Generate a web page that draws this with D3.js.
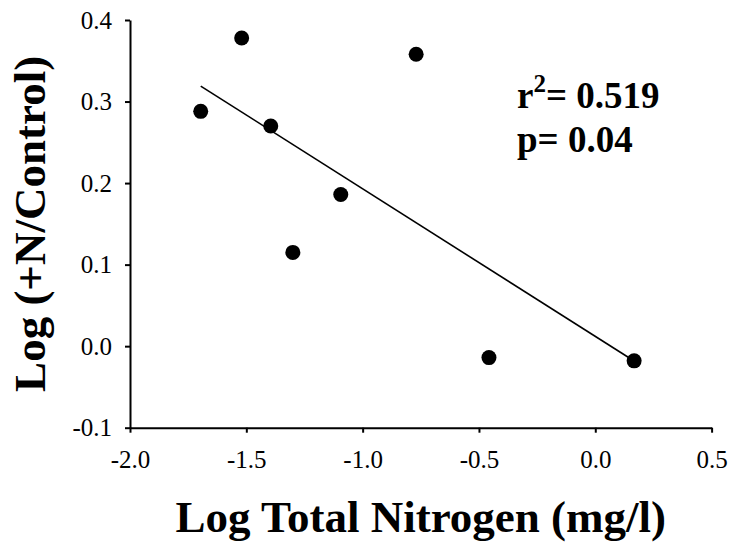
<!DOCTYPE html>
<html>
<head>
<meta charset="utf-8">
<script src="https://cdn.jsdelivr.net/npm/d3@7"></script>
<style>
  html, body { margin: 0; padding: 0; background: #fff; }
  svg { display: block; }
  text { font-family: "Liberation Serif", "Times New Roman", serif; fill: #000; }
</style>
</head>
<body>
<svg id="chart" width="735" height="550"></svg>
<script>
// Data
const logTN   = [-1.696, -1.520, -1.395, -1.300, -1.094, -0.770, -0.457, 0.167];
const logResp = [ 0.288,  0.378,  0.270,  0.115,  0.186,  0.358, -0.014, -0.018];
// Fitted regression line (intercept, slope) and its x extent
const fitIntercept = 0.012;
const fitSlope = -0.181;
const fitRange = [-1.696, 0.167];
const xTicks = [-2.0, -1.5, -1.0, -0.5, 0.0, 0.5];
const yTicks = [-0.1, 0.0, 0.1, 0.2, 0.3, 0.4];
const xTitle = "Log Total Nitrogen (mg/l)";
const yTitle = "Log (+N/Control)";
const statR2 = "0.519";
const statP = "0.04";

const serif = '"Liberation Serif", "Times New Roman", serif';
const svg = d3.select("#chart");
const plotL = 130, plotR = 711.6, plotT = 20, plotB = 427.7;

const x = d3.scaleLinear().domain([-2.0, 0.5]).range([plotL, plotR]);
const y = d3.scaleLinear().domain([-0.1, 0.4]).range([plotB, plotT]);

const fmt = d => d3.format(".1f")(d).replace("\u2212", "-");

const xAxis = svg.append("g")
  .attr("transform", `translate(0,${plotB})`)
  .call(d3.axisBottom(x).tickValues(xTicks).tickFormat(fmt).tickSize(5).tickPadding(18).tickSizeOuter(0));
const yAxis = svg.append("g")
  .attr("transform", `translate(${plotL},0)`)
  .call(d3.axisLeft(y).tickValues(yTicks).tickFormat(fmt).tickSize(5).tickPadding(13).tickSizeOuter(0));

[xAxis, yAxis].forEach(g => {
  g.attr("font-family", serif).attr("font-size", 25);
  g.select(".domain").attr("stroke", "#000").attr("stroke-width", 2);
  g.selectAll(".tick line").attr("stroke", "#000").attr("stroke-width", 2);
  g.selectAll(".tick text")
    .style("font-family", serif)
    .style("font-size", "25px")
    .attr("fill", "#000");
});

// Regression line
svg.append("line")
  .attr("x1", x(fitRange[0])).attr("y1", y(fitIntercept + fitSlope * fitRange[0]))
  .attr("x2", x(fitRange[1])).attr("y2", y(fitIntercept + fitSlope * fitRange[1]))
  .attr("stroke", "#000").attr("stroke-width", 1.6);

// Points
svg.append("g").selectAll("circle")
  .data(logTN.map((d, i) => [d, logResp[i]]))
  .join("circle")
  .attr("cx", d => x(d[0]))
  .attr("cy", d => y(d[1]))
  .attr("r", 7.5)
  .attr("fill", "#000");

// Axis titles
svg.append("text")
  .attr("x", (plotL + plotR) / 2).attr("y", 532)
  .attr("text-anchor", "middle")
  .style("font-family", serif)
  .style("font-size", "45px").style("font-weight", "bold")
  .text(xTitle);

svg.append("text")
  .attr("transform", `translate(45,${(plotT + plotB) / 2}) rotate(-90)`)
  .attr("text-anchor", "middle")
  .style("font-family", serif)
  .style("font-size", "45px").style("font-weight", "bold")
  .text(yTitle);

// Statistics annotation
const t1 = svg.append("text")
  .attr("x", 517).attr("y", 108)
  .style("font-family", serif)
  .style("font-size", "37px").style("font-weight", "bold");
t1.append("tspan").text("r");
t1.append("tspan").attr("dy", -16).style("font-size", "25px").text("2");
t1.append("tspan").attr("dy", 16).text("= " + statR2);

svg.append("text")
  .attr("x", 517).attr("y", 152)
  .style("font-family", serif)
  .style("font-size", "37px").style("font-weight", "bold")
  .text("p= " + statP);
</script>
</body>
</html>
